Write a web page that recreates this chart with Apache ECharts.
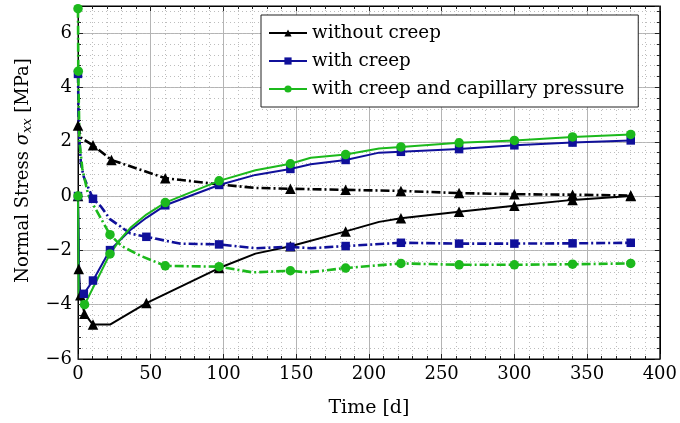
<!DOCTYPE html>
<html>
<head>
<meta charset="utf-8">
<script src="https://cdn.jsdelivr.net/npm/echarts@6/dist/echarts.min.js"></script>
<style>
  html, body { margin: 0; padding: 0; background: #fff; }
  #chart { width: 680px; height: 423px; }
</style>
</head>
<body>
<div id="chart"></div>
<script>
// time [d], stress [MPa], marker flag (1 = marker drawn at that point)
// without creep, solid
const woT = [0, 0.5, 1.6, 4.4, 10.3, 22, 47, 72, 97, 122, 146, 184, 207, 222, 262, 300, 340, 380];
const woV = [0, -2.69, -3.65, -4.33, -4.73, -4.73, -3.94, -3.3, -2.65, -2.12, -1.85, -1.3, -0.95, -0.82, -0.58, -0.36, -0.14, 0.0];
const woM = [1, 1, 1, 1, 1, 0, 1, 0, 1, 0, 1, 1, 0, 1, 1, 1, 1, 1];
// without creep, dash-dot
const woDT = [0, 2, 10.3, 23, 60, 97, 122, 146, 184, 222, 262, 300, 340, 380];
const woDV = [2.6, 2.15, 1.87, 1.33, 0.66, 0.43, 0.3, 0.27, 0.23, 0.19, 0.11, 0.07, 0.05, 0.02];
const woDM = [1, 0, 1, 1, 1, 0, 0, 1, 1, 1, 1, 1, 1, 1];
// with creep, solid
const wcT = [0, 1, 4, 10.3, 22, 36, 47, 60, 97, 122, 146, 160, 184, 207, 222, 262, 300, 340, 380];
const wcV = [0, -3.5, -3.6, -3.11, -1.99, -1.25, -0.8, -0.34, 0.41, 0.78, 1.0, 1.17, 1.33, 1.6, 1.63, 1.73, 1.87, 1.97, 2.05];
const wcM = [1, 0, 1, 1, 1, 0, 0, 1, 1, 0, 1, 0, 1, 0, 1, 1, 1, 1, 1];
// with creep, dash-dot
const wcDT = [0, 0.5, 2, 4, 10.3, 16, 22, 36, 47, 70, 97, 122, 146, 160, 184, 222, 262, 300, 340, 380];
const wcDV = [4.5, 2.5, 1.2, 0.7, -0.1, -0.4, -0.85, -1.38, -1.5, -1.75, -1.78, -1.92, -1.87, -1.92, -1.84, -1.72, -1.75, -1.75, -1.74, -1.72];
const wcDM = [1, 0, 0, 0, 1, 0, 0, 0, 1, 0, 1, 0, 1, 0, 1, 1, 1, 1, 1, 1];
// with creep and capillary pressure, solid
const cpT = [0, 0.5, 4.5, 22, 29, 36, 47, 60, 97, 122, 146, 160, 184, 207, 222, 262, 300, 340, 380];
const cpV = [0, -3.7, -4.0, -2.13, -1.6, -1.17, -0.68, -0.24, 0.56, 0.95, 1.19, 1.41, 1.53, 1.75, 1.81, 1.96, 2.05, 2.18, 2.27];
const cpM = [1, 0, 1, 1, 0, 0, 0, 1, 1, 0, 1, 0, 1, 0, 1, 1, 1, 1, 1];
// with creep and capillary pressure, dash-dot
const cpDT = [0, 0.2, 1, 3, 7, 10.3, 22, 30, 43, 60, 97, 120, 146, 158, 184, 222, 262, 300, 340, 380];
const cpDV = [6.9, 4.6, 2.0, 1.0, 0.05, -0.3, -1.42, -1.84, -2.2, -2.57, -2.6, -2.81, -2.75, -2.81, -2.65, -2.48, -2.53, -2.53, -2.51, -2.48];
const cpDM = [1, 1, 0, 0, 0, 0, 1, 0, 0, 1, 1, 0, 1, 0, 1, 1, 1, 1, 1, 1];

const names = ['without creep', 'with creep', 'with creep and capillary pressure'];

const font = 'DejaVu Serif';
const black = '#000000', blue = '#10109a', green = '#1cb91c';
const minus = (v) => String(v).replace('-', '\u2212');

const pts = (t, v, m) => t.map((x, i) => m[i] ? [x, v[i]] : { value: [x, v[i]], symbol: 'none' });

const line = (name, t, v, m, color, symbol, size, dashed) => ({
  name,
  type: 'line',
  data: pts(t, v, m),
  symbol,
  symbolSize: size,
  showAllSymbol: true,
  xAxisIndex: 0,
  yAxisIndex: 0,
  lineStyle: { color, width: dashed ? 2.6 : 2, type: dashed ? [9, 3, 2, 3] : 'solid' },
  itemStyle: { color },
  emphasis: { disabled: true }
});

const chart = echarts.init(document.getElementById('chart'), null, { renderer: 'canvas' });

const tickIn = (len) => ({ show: true, inside: true, length: len, lineStyle: { color: '#222', width: 1 } });
const frame = { show: true, onZero: false, lineStyle: { color: '#000', width: 1 } };

chart.setOption({
  animation: false,
  backgroundColor: '#fff',
  grid: { left: 78, right: 18, top: 6, bottom: 61, show: true, borderColor: '#000', borderWidth: 1 },
  legend: {
    data: names,
    orient: 'vertical',
    left: 261,
    top: 15,
    padding: [8, 14, 8, 7],
    itemGap: 8,
    itemWidth: 38,
    itemHeight: 9,
    backgroundColor: '#fff',
    borderColor: '#222',
    borderWidth: 1,
    borderRadius: 0,
    textStyle: { fontFamily: font, fontSize: 18.3, color: '#000', lineHeight: 20 }
  },
  xAxis: [
    {
      type: 'value', min: 0, max: 400, interval: 50,
      name: 'Time [d]', nameLocation: 'middle', nameGap: 40,
      nameTextStyle: { fontFamily: font, fontSize: 19, color: '#000' },
      axisLine: frame,
      axisTick: tickIn(5),
      minorTick: { show: true, splitNumber: 5, length: 3, lineStyle: { color: '#222' } },
      axisLabel: { fontFamily: font, fontSize: 18, color: '#000', margin: 6 },
      splitLine: { show: true, lineStyle: { color: '#b4b4b4', width: 1 } },
      minorSplitLine: { show: true, lineStyle: { color: '#bdbdbd', width: 1, type: [1, 3] } }
    },
    {
      type: 'value', position: 'top', min: 0, max: 400, interval: 50,
      axisLine: frame,
      axisTick: tickIn(5),
      minorTick: { show: true, splitNumber: 5, length: 3, lineStyle: { color: '#222' } },
      axisLabel: { show: false },
      splitLine: { show: false }
    }
  ],
  yAxis: [
    {
      type: 'value', min: -6, max: 7, interval: 2,
      name: 'Normal Stress {s|\u03c3}{b|xx} [MPa]',
      nameLocation: 'middle', nameGap: 32, nameRotate: 90,
      nameTextStyle: {
        fontFamily: font, fontSize: 18, color: '#000', padding: [0, 0, 0, 24],
        rich: {
          s: { fontFamily: font, fontSize: 18, fontStyle: 'italic', color: '#000' },
          b: { fontFamily: font, fontSize: 13, fontStyle: 'italic', color: '#000', padding: [10, 0, 0, 0] }
        }
      },
      axisLine: frame,
      axisTick: tickIn(5),
      axisLabel: {
        fontFamily: font, fontSize: 18, color: '#000', margin: 6, showMaxLabel: false,
        formatter: (v) => (v > 6 ? '' : minus(v))
      },
      splitLine: { show: true, lineStyle: { color: '#b4b4b4', width: 1 } }
    },
    {
      type: 'value', position: 'right', min: -6, max: 7, interval: 2,
      axisLine: frame,
      axisTick: tickIn(5),
      axisLabel: { show: false },
      splitLine: { show: false }
    },
    {
      type: 'value', position: 'left', min: -6, max: 7, interval: 0.4,
      axisLine: { show: false, onZero: false },
      axisTick: tickIn(3),
      axisLabel: { show: false },
      splitLine: { show: true, lineStyle: { color: '#bdbdbd', width: 1, type: [1, 3] } }
    },
    {
      type: 'value', position: 'right', min: -6, max: 7, interval: 0.4,
      axisLine: { show: false, onZero: false },
      axisTick: tickIn(3),
      axisLabel: { show: false },
      splitLine: { show: false }
    }
  ],
  series: [
    line(names[0], woT, woV, woM, black, 'triangle', 10.5, false),
    line('without creep (dash-dot)', woDT, woDV, woDM, black, 'triangle', 10.5, true),
    line(names[1], wcT, wcV, wcM, blue, 'rect', 8.5, false),
    line('with creep (dash-dot)', wcDT, wcDV, wcDM, blue, 'rect', 8.5, true),
    line(names[2], cpT, cpV, cpM, green, 'circle', 9.5, false),
    line('with creep and capillary pressure (dash-dot)', cpDT, cpDV, cpDM, green, 'circle', 9.5, true)
  ]
});
</script>
</body>
</html>
